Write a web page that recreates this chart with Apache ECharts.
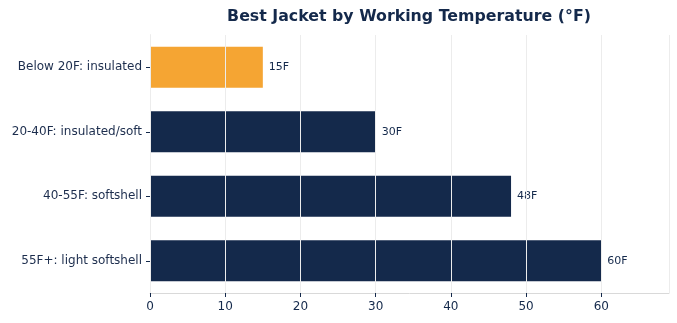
<!DOCTYPE html>
<html>
<head>
<meta charset="utf-8">
<script src="https://cdn.jsdelivr.net/npm/echarts@6/dist/echarts.min.js"></script>
<style>
  html, body { margin: 0; padding: 0; background: #fff; }
  #main { width: 677px; height: 323px; }
</style>
</head>
<body>
<div id="main"></div>
<script>
// categories, top to bottom
var categories = ['Below 20F: insulated', '20-40F: insulated/soft', '40-55F: softshell', '55F+: light softshell'];
var temps = [15, 30, 48, 60];
var barColors = ['#F5A533', '#14294B', '#14294B', '#14294B'];
var xTicks = [0, 10, 20, 30, 40, 50, 60];

var chart = echarts.init(document.getElementById('main'), null, { renderer: 'canvas' });

var option = {
  backgroundColor: '#ffffff',
  textStyle: { fontFamily: 'DejaVu Sans' },
  title: {
    text: 'Best Jacket by Working Temperature (°F)',
    left: 404,
    textAlign: 'center',
    top: 4,
    textStyle: { fontSize: 15.8, fontWeight: 'bold', color: '#14294B', fontFamily: 'DejaVu Sans' }
  },
  grid: { left: 150, right: 8, top: 35, bottom: 30, containLabel: false },
  xAxis: {
    type: 'value',
    min: 0,
    max: 69,
    interval: 10,
    z: 5,
    axisLine: { show: true, lineStyle: { color: '#d9d9d9', width: 1 } },
    axisTick: { show: true, length: 4, lineStyle: { color: '#14294B' } },
    axisLabel: {
      color: '#14294B', fontSize: 12, margin: 8,
      showMaxLabel: false,
      formatter: function (v) { return xTicks.indexOf(v) >= 0 ? v : ''; }
    },
    splitLine: { show: true, lineStyle: { color: '#ececec', width: 1 } }
  },
  yAxis: {
    type: 'category',
    inverse: true,
    data: categories,
    axisLine: { show: true, lineStyle: { color: '#d9d9d9', width: 1 } },
    axisTick: { show: true, alignWithLabel: true, length: 4, lineStyle: { color: '#14294B' } },
    axisLabel: { color: '#1c2d4d', fontSize: 12, margin: 8 }
  },
  series: [{
    type: 'bar',
    barWidth: 41,
    data: temps.map(function (v, i) {
      return { value: v, itemStyle: { color: barColors[i] } };
    }),
    label: {
      show: true,
      position: 'right',
      distance: 6,
      color: '#14294B',
      fontSize: 11,
      formatter: function (p) { return p.value + 'F'; }
    }
  }]
};

chart.setOption(option);
</script>
</body>
</html>
